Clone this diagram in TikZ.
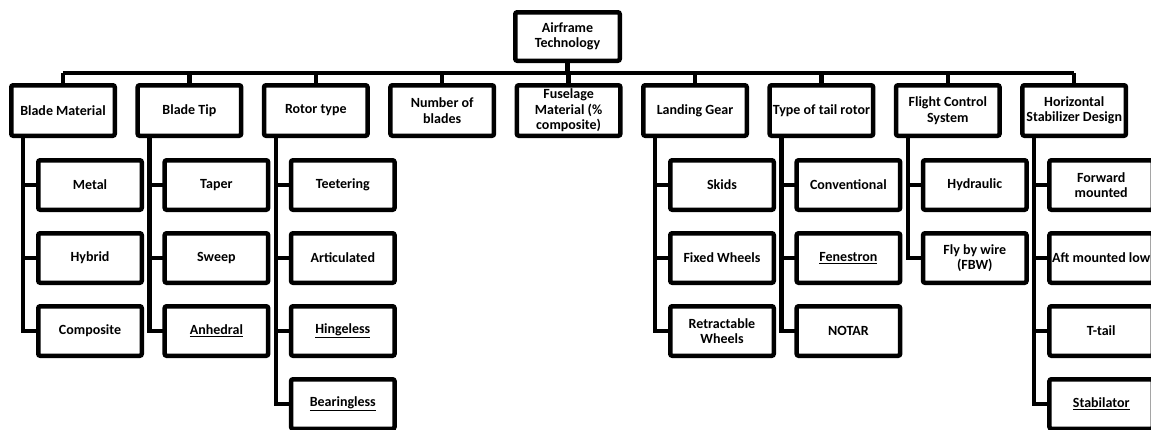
\documentclass[tikz,border=0pt]{standalone}
\usepackage{fontspec}
\setmainfont{Carlito}
\usetikzlibrary{positioning}

\tikzset{
  topbox/.style={draw=black, line width=4.5pt, rounded corners=2pt, fill=white,
    minimum width=103.5pt, minimum height=50.5pt, inner sep=0pt, outer sep=0pt,
    align=center, font=\bfseries\fontsize{14}{15.5}\selectfont},
  subbox/.style={topbox, minimum height=49.5pt},
  link/.style={draw=black, line width=4.5pt}
}

\begin{document}
\begin{tikzpicture}[x=1pt, y=-1pt, node distance=23.5pt]
  \useasboundingbox (0,0) rectangle (1151,429);
  % root and first level
  \node[topbox, minimum width=104.5pt, minimum height=48.5pt] (root) at (567.5,36.5) {Airframe\\Technology};
  \coordinate (bus) at (567.5,73);
  \node[topbox] (bm) at (63,110.5) {Blade Material};
  \node[topbox] (bt) at (189.4,110.5) {Blade Tip};
  \node[topbox] (rt) at (315.8,110.5) {Rotor type};
  \node[topbox] (nb) at (442.2,110.5) {Number of\\blades};
  \node[topbox] (fm) at (568.6,110.5) {Fuselage\\Material (\%\\composite)};
  \node[topbox] (lg) at (695,110.5) {Landing Gear};
  \node[topbox] (tr) at (821.4,110.5) {Type of tail rotor};
  \node[topbox] (fc) at (947.8,110.5) {Flight Control\\System};
  \node[topbox] (hs) at (1074.2,110.5) {Horizontal\\Stabilizer Design};
  % second level
  \node[subbox, below=24.5pt of bm, xshift=27pt] (bm1) {Metal};
  \node[subbox, below=of bm1] (bm2) {Hybrid};
  \node[subbox, below=of bm2] (bm3) {Composite};
  \node[subbox, below=24.5pt of bt, xshift=27pt] (bt1) {Taper};
  \node[subbox, below=of bt1] (bt2) {Sweep};
  \node[subbox, below=of bt2] (bt3) {\underline{Anhedral}};
  \node[subbox, below=24.5pt of rt, xshift=27pt] (rt1) {Teetering};
  \node[subbox, below=of rt1] (rt2) {Articulated};
  \node[subbox, below=of rt2] (rt3) {\underline{Hingeless}};
  \node[subbox, below=of rt3] (rt4) {\underline{Bearingless}};
  \node[subbox, below=24.5pt of lg, xshift=27pt] (lg1) {Skids};
  \node[subbox, below=of lg1] (lg2) {Fixed Wheels};
  \node[subbox, below=of lg2] (lg3) {Retractable\\Wheels};
  \node[subbox, below=24.5pt of tr, xshift=27pt] (tr1) {Conventional};
  \node[subbox, below=of tr1] (tr2) {\underline{Fenestron}};
  \node[subbox, below=of tr2] (tr3) {NOTAR};
  \node[subbox, below=24.5pt of fc, xshift=27pt] (fc1) {Hydraulic};
  \node[subbox, below=of fc1] (fc2) {Fly by wire\\(FBW)};
  \node[subbox, below=24.5pt of hs, xshift=27pt] (hs1) {Forward\\mounted};
  \node[subbox, below=of hs1] (hs2) {Aft mounted low};
  \node[subbox, below=of hs2] (hs3) {T-tail};
  \node[subbox, below=of hs3] (hs4) {\underline{Stabilator}};
  % connectors
  \draw[link] (root.south) -- (bus);
  \draw[link] (bm.north |- bus) -- (hs.north |- bus);
  \foreach \n in {bm, bt, rt, nb, fm, lg, tr, fc, hs}
    \draw[link] (\n.north |- bus) -- (\n.north);
  \foreach \p/\c in {bm/bm1, bm/bm2, bm/bm3, bt/bt1, bt/bt2, bt/bt3,
      rt/rt1, rt/rt2, rt/rt3, rt/rt4, lg/lg1, lg/lg2, lg/lg3,
      tr/tr1, tr/tr2, tr/tr3, fc/fc1, fc/fc2, hs/hs1, hs/hs2, hs/hs3, hs/hs4}
    \draw[link] ([xshift=-40pt]\p.south) |- (\c.west);
\end{tikzpicture}
\end{document}
